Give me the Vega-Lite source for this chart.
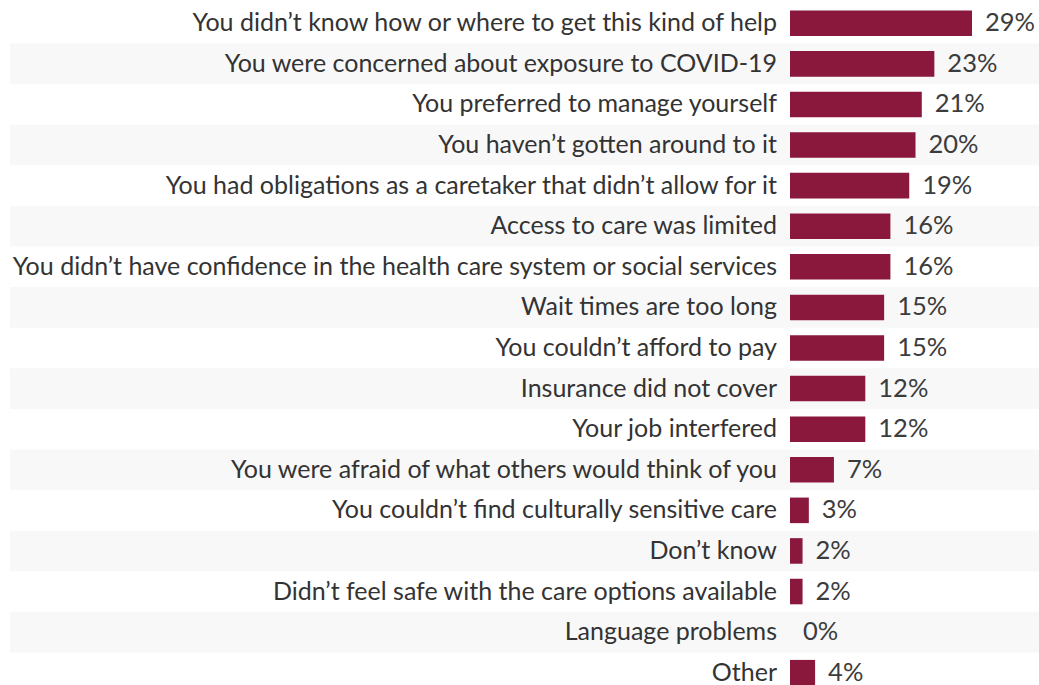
{
  "$schema": "https://vega.github.io/schema/vega-lite/v6.json",
  "width": 1029,
  "height": 690,
  "autosize": "none",
  "padding": {"left": 10, "top": 3, "right": 0, "bottom": 0},
  "background": "white",
  "config": {"view": {"stroke": null}},
  "data": {
    "values": [
      {"reason": "You didn\u2019t know how or where to get this kind of help", "pct": 0.29, "i": 0},
      {"reason": "You were concerned about exposure to COVID-19", "pct": 0.23, "i": 1},
      {"reason": "You preferred to manage yourself", "pct": 0.21, "i": 2},
      {"reason": "You haven\u2019t gotten around to it", "pct": 0.20, "i": 3},
      {"reason": "You had obligations as a caretaker that didn\u2019t allow for it", "pct": 0.19, "i": 4},
      {"reason": "Access to care was limited", "pct": 0.16, "i": 5},
      {"reason": "You didn\u2019t have confidence in the health care system or social services", "pct": 0.16, "i": 6},
      {"reason": "Wait times are too long", "pct": 0.15, "i": 7},
      {"reason": "You couldn\u2019t afford to pay", "pct": 0.15, "i": 8},
      {"reason": "Insurance did not cover", "pct": 0.12, "i": 9},
      {"reason": "Your job interfered", "pct": 0.12, "i": 10},
      {"reason": "You were afraid of what others would think of you", "pct": 0.07, "i": 11},
      {"reason": "You couldn\u2019t find culturally sensitive care", "pct": 0.03, "i": 12},
      {"reason": "Don\u2019t know", "pct": 0.02, "i": 13},
      {"reason": "Didn\u2019t feel safe with the care options available", "pct": 0.02, "i": 14},
      {"reason": "Language problems", "pct": 0, "i": 15},
      {"reason": "Other", "pct": 0.04, "i": 16}
    ]
  },
  "encoding": {
    "y": {
      "field": "reason",
      "type": "nominal",
      "sort": [
        "You didn\u2019t know how or where to get this kind of help",
        "You were concerned about exposure to COVID-19",
        "You preferred to manage yourself",
        "You haven\u2019t gotten around to it",
        "You had obligations as a caretaker that didn\u2019t allow for it",
        "Access to care was limited",
        "You didn\u2019t have confidence in the health care system or social services",
        "Wait times are too long",
        "You couldn\u2019t afford to pay",
        "Insurance did not cover",
        "Your job interfered",
        "You were afraid of what others would think of you",
        "You couldn\u2019t find culturally sensitive care",
        "Don\u2019t know",
        "Didn\u2019t feel safe with the care options available",
        "Language problems",
        "Other"
      ],
      "scale": {"paddingInner": 0, "paddingOuter": 0},
      "axis": null
    }
  },
  "layer": [
    {
      "transform": [{"filter": "datum.i % 2 == 1"}],
      "mark": {"type": "rect", "color": "#f8f8f8"},
      "encoding": {}
    },
    {
      "mark": {"type": "bar", "color": "#8a173c", "height": {"band": 0.63}},
      "encoding": {
        "x": {
          "field": "pct",
          "type": "quantitative",
          "scale": {"domain": [0, 0.29], "range": [780, 962], "nice": false, "zero": true},
          "axis": null
        }
      }
    },
    {
      "mark": {"type": "text", "align": "left", "baseline": "middle", "dx": 13, "font": "Lato", "fontSize": 25.5, "color": "#3c3c3c"},
      "encoding": {
        "x": {"field": "pct", "type": "quantitative"},
        "text": {"field": "pct", "type": "quantitative", "format": ".0%"}
      }
    },
    {
      "mark": {"type": "text", "align": "right", "baseline": "middle", "dx": -13, "font": "Lato", "fontSize": 25, "color": "#333333"},
      "encoding": {
        "x": {"datum": 0, "type": "quantitative"},
        "text": {"field": "reason", "type": "nominal"}
      }
    }
  ]
}
